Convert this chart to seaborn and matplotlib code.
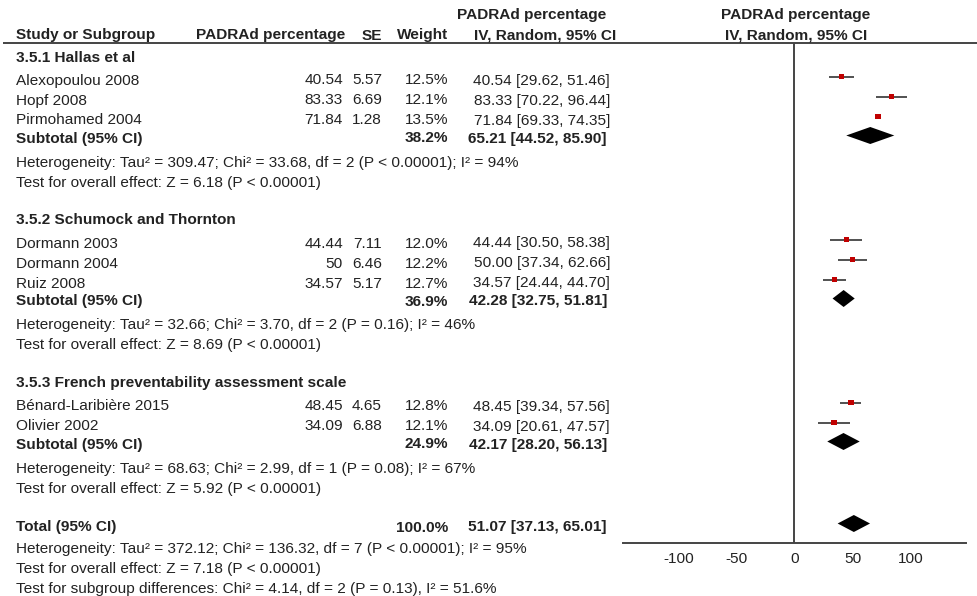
import matplotlib
matplotlib.use("Agg")
import matplotlib.pyplot as plt
import numpy as np
import pandas as pd
import seaborn as sns

# ---- data -------------------------------------------------------------
group_names = ["3.5.1 Hallas et al",
               "3.5.2 Schumock and Thornton",
               "3.5.3 French preventability assessment scale"]
group_of_study = [0, 0, 0, 1, 1, 1, 2, 2]
studies = ["Alexopoulou 2008", "Hopf 2008", "Pirmohamed 2004",
           "Dormann 2003", "Dormann 2004", "Ruiz 2008",
           "Bénard-Laribière 2015", "Olivier 2002"]
estimate = [40.54, 83.33, 71.84, 44.44, 50.00, 34.57, 48.45, 34.09]
std_err = [5.57, 6.69, 1.28, 7.11, 6.46, 5.17, 4.65, 6.88]
weight = [12.5, 12.1, 13.5, 12.0, 12.2, 12.7, 12.8, 12.1]
ci_low = [29.62, 70.22, 69.33, 30.50, 37.34, 24.44, 39.34, 20.61]
ci_high = [51.46, 96.44, 74.35, 58.38, 62.66, 44.70, 57.56, 47.57]

sub_weight = [38.2, 36.9, 24.9]
sub_est = [65.21, 42.28, 42.17]
sub_low = [44.52, 32.75, 28.20]
sub_high = [85.90, 51.81, 56.13]
sub_het = ["Heterogeneity: Tau² = 309.47; Chi² = 33.68, df = 2 (P < 0.00001); I² = 94%",
           "Heterogeneity: Tau² = 32.66; Chi² = 3.70, df = 2 (P = 0.16); I² = 46%",
           "Heterogeneity: Tau² = 68.63; Chi² = 2.99, df = 1 (P = 0.08); I² = 67%"]
sub_test = ["Test for overall effect: Z = 6.18 (P < 0.00001)",
            "Test for overall effect: Z = 8.69 (P < 0.00001)",
            "Test for overall effect: Z = 5.92 (P < 0.00001)"]

total_weight = 100.0
total_est, total_low, total_high = 51.07, 37.13, 65.01
total_notes = ["Heterogeneity: Tau² = 372.12; Chi² = 136.32, df = 7 (P < 0.00001); I² = 95%",
               "Test for overall effect: Z = 7.18 (P < 0.00001)",
               "Test for subgroup differences: Chi² = 4.14, df = 2 (P = 0.13), I² = 51.6%"]

x_ticks = [-100, -50, 0, 50, 100]
x_limit = 147.6

# ---- style --------------------------------------------------------------
sns.set_style("white")
plt.rcParams["font.family"] = ["Liberation Sans", "DejaVu Sans"]
plt.rcParams["axes.unicode_minus"] = False

TXT = "#222222"
LINE = "#444444"
SQUARE = "#c00000"
FS = 11.1

W, H = 978, 596
fig = plt.figure(figsize=(W / 100, H / 100), dpi=100)

# text layer in pixel units
tx = fig.add_axes([0, 0, 1, 1])
tx.set_xlim(0, W)
tx.set_ylim(H, 0)
tx.axis("off")

# forest panel: x in effect units, y shares the pixel rows
axis_y, top_y = 543, 43
left_px, right_px = 623, 966
fx = fig.add_axes([left_px / W, 1 - axis_y / H,
                   (right_px - left_px) / W, (axis_y - top_y) / H])
fx.set_xlim(-x_limit, x_limit)
fx.set_ylim(axis_y, top_y)
fx.patch.set_alpha(0)
for side in ["top", "right", "left"]:
    fx.spines[side].set_visible(False)
fx.spines["bottom"].set_color(LINE)
fx.spines["bottom"].set_linewidth(1.4)
fx.set_yticks([])
fx.set_xticks(x_ticks)
fx.set_xticklabels([str(t) for t in x_ticks], fontsize=FS, color=TXT)
fx.tick_params(axis="x", direction="inout", length=9, width=1.2,
               color=LINE, pad=2)
fx.axvline(0, color=LINE, lw=1.4)

TEXT_SHIFT = 1.5


def put(x, y, s, ha="left", bold=False):
    tx.text(x, y + TEXT_SHIFT, s, ha=ha, va="center", fontsize=FS, color=TXT,
            fontweight="bold" if bold else "normal")


# column anchors (pixels)
X_NAME, X_EST, X_SE, X_W, X_CI, X_CI_B = 16, 343, 382, 448, 610, 607
X_PLOT = 796

# header
put(606, 14, "PADRAd percentage", ha="right", bold=True)
put(X_PLOT, 14, "PADRAd percentage", ha="center", bold=True)
put(X_NAME, 34, "Study or Subgroup", bold=True)
put(X_EST + 2, 34, "PADRAd percentage", ha="right", bold=True)
put(X_SE, 34, "SE", ha="right", bold=True)
put(X_W, 34, "Weight", ha="right", bold=True)
put(616, 34, "IV, Random, 95% CI", ha="right", bold=True)
put(X_PLOT, 34, "IV, Random, 95% CI", ha="center", bold=True)
tx.plot([3, W], [43, 43], color=LINE, lw=1.4, solid_capstyle="butt")

# row layout
marker_y = []
sub_y = []
diamond_half = 8.5
for g in range(3):
    y0 = 56 + 163 * g
    put(X_NAME, y0, group_names[g], bold=True)
    idx = [i for i, gg in enumerate(group_of_study) if gg == g]
    y = y0
    for k, i in enumerate(idx):
        y = y0 + 23 + 20 * k
        marker_y.append(y - 2.5)
        put(X_NAME, y, studies[i])
        put(X_EST, y, f"{estimate[i]:g}", ha="right")
        put(X_SE, y, f"{std_err[i]:.2f}", ha="right")
        put(X_W, y, f"{weight[i]:.1f}%", ha="right")
        put(X_CI, y, f"{estimate[i]:.2f} [{ci_low[i]:.2f}, {ci_high[i]:.2f}]",
            ha="right")
    ys = y + 18
    sub_y.append(ys - 1.5)
    put(X_NAME, ys, "Subtotal (95% CI)", bold=True)
    put(X_W, ys, f"{sub_weight[g]:.1f}%", ha="right", bold=True)
    put(X_CI_B, ys, f"{sub_est[g]:.2f} [{sub_low[g]:.2f}, {sub_high[g]:.2f}]",
        ha="right", bold=True)
    put(X_NAME, ys + 24, sub_het[g])
    put(X_NAME, ys + 44, sub_test[g])

y_total = 526
put(X_NAME, y_total, "Total (95% CI)", bold=True)
put(X_W, y_total, f"{total_weight:.1f}%", ha="right", bold=True)
put(X_CI_B, y_total, f"{total_est:.2f} [{total_low:.2f}, {total_high:.2f}]",
    ha="right", bold=True)
for k, note in enumerate(total_notes):
    put(X_NAME, y_total + 22 + 19.5 * k, note)

# study estimates: whiskers and weighted squares
df = pd.DataFrame({"est": estimate, "lo": ci_low, "hi": ci_high,
                   "w": weight, "y": marker_y})
fx.hlines(df["y"], df["lo"], df["hi"], color="#333333", lw=1.2, zorder=2)
sns.scatterplot(data=df, x="est", y="y", marker="s", s=df["w"] * 1.2,
                color=SQUARE, edgecolor="none", linewidth=0, ax=fx,
                legend=False, zorder=3)
fx.set_xlabel("")
fx.set_ylabel("")
fx.set_ylim(axis_y, top_y)

# pooled diamonds
pooled = pd.DataFrame({"est": sub_est + [total_est],
                       "lo": sub_low + [total_low],
                       "hi": sub_high + [total_high],
                       "y": sub_y + [y_total - 2.5]})
for _, r in pooled.iterrows():
    fx.fill([r.lo, r.est, r.hi, r.est],
            [r.y, r.y - diamond_half, r.y, r.y + diamond_half],
            color="black", lw=0, zorder=3)

fig.savefig("out.png", dpi=100)
